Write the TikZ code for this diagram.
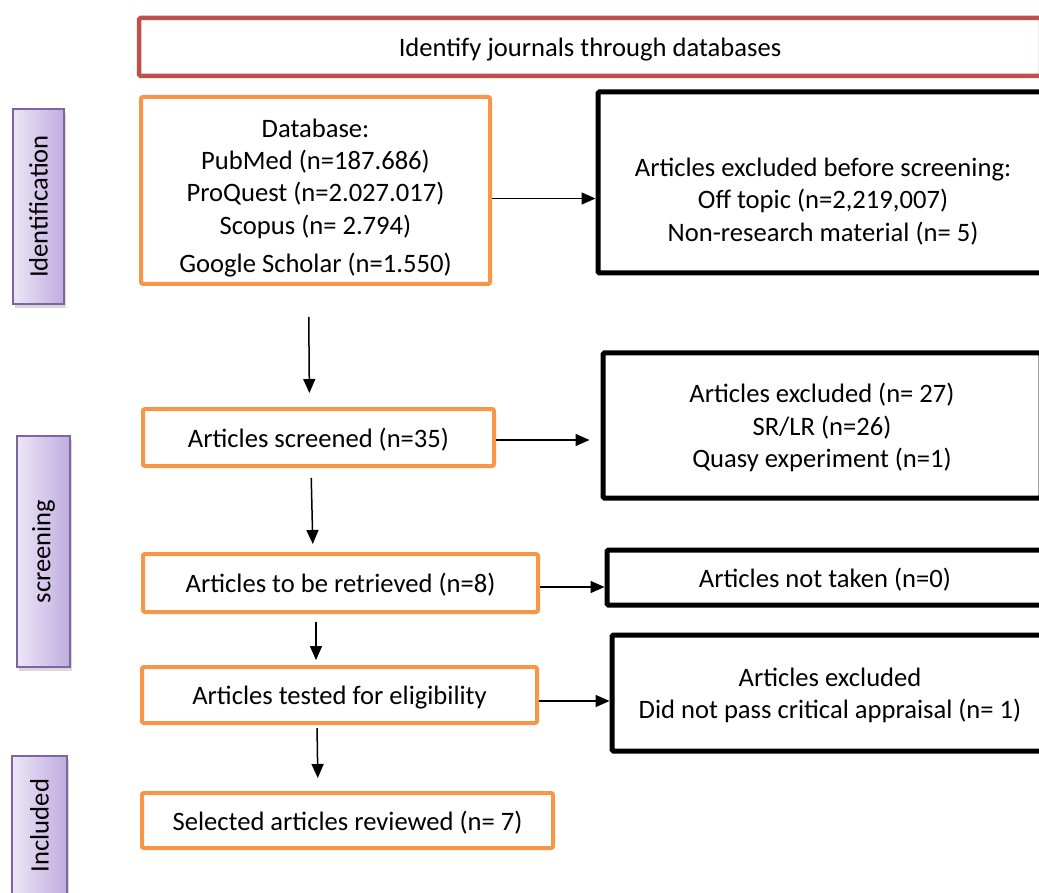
\documentclass[tikz,border=0pt]{standalone}
\usepackage{fontspec}
\setmainfont{Carlito}
\usepackage{tikz}
\usetikzlibrary{arrows.meta,shadows}
\definecolor{boxorange}{RGB}{247,150,70}
\definecolor{boxred}{RGB}{192,80,77}
\definecolor{sidepurple}{RGB}{128,100,162}
\definecolor{sidelight}{RGB}{235,230,246}
\definecolor{sidedark}{RGB}{192,172,224}
\tikzset{
  txt/.style={font=\fontsize{26.6}{32.4}\selectfont, align=center, inner sep=0pt, text depth=0pt},
  titlebox/.style={txt, rectangle, draw=boxred, line width=4.5pt, rounded corners=1.5pt},
  stepbox/.style={txt, rectangle, draw=boxorange, line width=4pt, rounded corners=2pt},
  exclbox/.style={txt, rectangle, draw=black, line width=5pt, rounded corners=1.5pt},
  phase/.style={txt, rectangle, draw=sidepurple, line width=1.5pt,
                left color=sidelight, right color=sidedark,
                drop shadow={shadow xshift=2pt, shadow yshift=-4pt, opacity=0.3}},
  fwd/.style={-{Triangle[length=14pt,width=12pt]}, line width=1.5pt},
}

\begin{document}
\begin{tikzpicture}[x=1pt, y=-1pt]
  \useasboundingbox (0,0) rectangle (1039,893);
  \clip (0,0) rectangle (1039,893);

  \node[titlebox, minimum width=902pt, minimum height=58pt] (top) at (590,47) {Identify journals through databases};

  \node[phase, minimum width=51pt, minimum height=195pt] (side1) at (38.5,206.5) {\rotatebox{90}{Identification}};
  \node[phase, minimum width=53pt, minimum height=231pt] (side2) at (43.5,551.5) {\rotatebox{90}{screening}};
  \node[phase, minimum width=55pt, minimum height=139pt] (side3) at (39.5,825.5) {\rotatebox{90}{Included}};

  \node[stepbox, minimum width=349pt, minimum height=187pt] (node1) at (315.5,190.5)
    {\rule{0pt}{29pt}Database:\\PubMed (n=187.686)\\ProQuest (n=2.027.017)\\Scopus (n= 2.794)\\[6pt]Google Scholar (n=1.550)};
  \node[stepbox, minimum width=351pt, minimum height=57pt] (node2) at (318.5,437.5) {Articles screened (n=35)};
  \node[stepbox, minimum width=395pt, minimum height=58pt] (node3) at (340.5,583) {Articles to be retrieved (n=8)};
  \node[stepbox, minimum width=395pt, minimum height=56pt] (node4) at (339.5,695) {Articles tested for eligibility};
  \node[stepbox, minimum width=411pt, minimum height=55pt] (node5) at (347.5,820.5) {Selected articles reviewed (n= 7)};

  \node[exclbox, minimum width=450pt, minimum height=181pt] (exc1) at (823,182.5)
    {\rule{0pt}{53pt}Articles excluded before screening:\\Off topic (n=2,219,007)\\Non-research material (n= 5)};
  \node[exclbox, minimum width=438pt, minimum height=145pt] (exc2) at (822,425.5)
    {Articles excluded (n= 27)\\SR/LR (n=26)\\Quasy experiment (n=1)};
  \node[exclbox, minimum width=436pt, minimum height=55pt] (exc3) at (825,577.5) {Articles not taken (n=0)};
  \node[exclbox, minimum width=436pt, minimum height=116pt] (exc4) at (830,693)
    {Articles excluded\\Did not pass critical appraisal (n= 1)};

  % main flow
  \draw[fwd, shorten <=31pt, shorten >=14pt] ([xshift=-7pt]node1.south) -- ([xshift=-9pt]node2.north);
  \draw[fwd, shorten <=10pt, shorten >=8pt] ([xshift=-7.5pt]node2.south) -- ([xshift=-27.5pt]node3.north);
  \draw[fwd, shorten <=8pt, shorten >=5pt] ([xshift=-24.5pt]node3.south) -- ([xshift=-23.5pt]node4.north);
  \draw[fwd, shorten <=3pt, shorten >=13pt] ([xshift=-22.5pt]node4.south) -- ([xshift=-29.5pt]node5.north);

  \draw[fwd] ([yshift=-8pt]node1.east) -- ([yshift=-8pt]node1.east -| exc1.west);
  \draw[fwd, shorten >=11pt] ([yshift=-2.5pt]node2.east) -- ([yshift=-2.5pt]node2.east -| exc2.west);
  \draw[fwd] ([yshift=-4pt]node3.east) -- ([yshift=-4pt]node3.east -| exc3.west);
  \draw[fwd] ([yshift=-6pt]node4.east) -- ([yshift=-6pt]node4.east -| exc4.west);
\end{tikzpicture}
\end{document}
